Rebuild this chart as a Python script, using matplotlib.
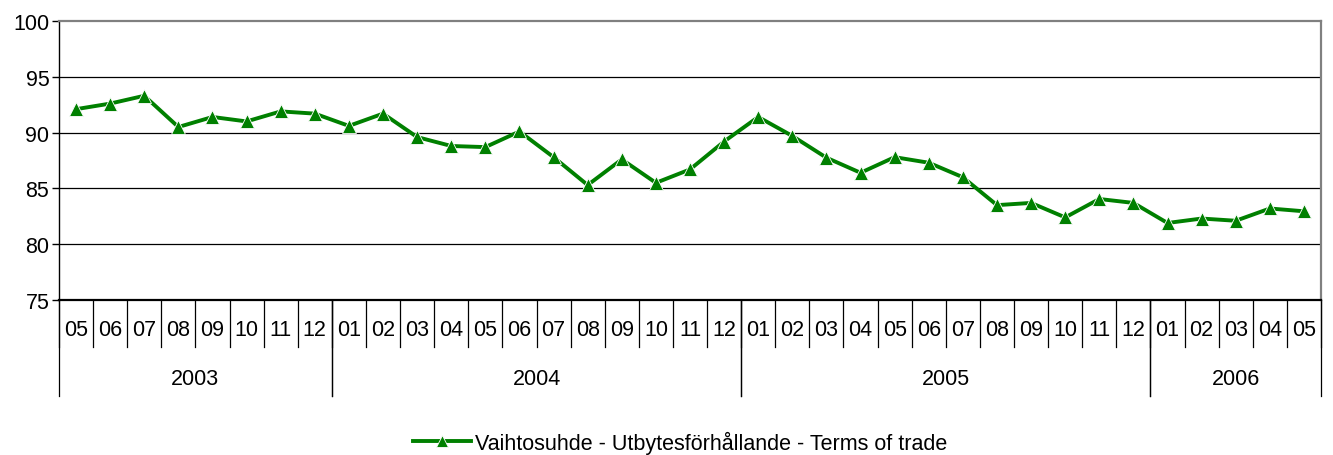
import matplotlib
matplotlib.use("Agg")
import matplotlib.pyplot as plt
from matplotlib.transforms import blended_transform_factory

plt.rcParams['font.family'] = ['Liberation Sans', 'DejaVu Sans']

months = ["05", "06", "07", "08", "09", "10", "11", "12",
          "01", "02", "03", "04", "05", "06", "07", "08", "09", "10", "11", "12",
          "01", "02", "03", "04", "05", "06", "07", "08", "09", "10", "11", "12",
          "01", "02", "03", "04", "05"]
years = ["2003"] * 8 + ["2004"] * 12 + ["2005"] * 12 + ["2006"] * 5
values = [92.1, 92.6, 93.3, 90.5, 91.4, 91.0, 91.9, 91.7,
          90.6, 91.7, 89.6, 88.8, 88.7, 90.1, 87.8, 85.3, 87.6, 85.5, 86.7, 89.2,
          91.4, 89.7, 87.75, 86.4, 87.8, 87.3, 86.0, 83.5, 83.7, 82.4, 84.05, 83.7,
          81.9, 82.3, 82.1, 83.2, 82.95]
series_label = "Vaihtosuhde - Utbytesförhållande - Terms of trade"
yticks = [75, 80, 85, 90, 95, 100]

FS = 15.5

fig = plt.figure(figsize=(13.33, 4.56), dpi=100)
ax = fig.add_axes([59/1333, 1-301/456, (1321-59)/1333, (301-22)/456])

x = list(range(len(values)))
ax.plot(x, values, color="#008000", lw=2.8, marker="^", markersize=10,
        markerfacecolor="#008000", markeredgecolor="white", markeredgewidth=0.6,
        label=series_label, zorder=3)

ax.set_xlim(-0.5, len(values) - 0.5)
ax.set_ylim(75, 100)
ax.set_yticks(yticks)
ax.set_yticklabels([str(t) for t in yticks], fontsize=FS)
for t in yticks[1:-1]:
    ax.axhline(t, color="black", lw=0.9, zorder=1)
ax.tick_params(axis='y', direction='out', length=5, width=1, pad=2, colors='black')
ax.set_xticks([])

for s in ["top", "right"]:
    ax.spines[s].set_color("#808080")
    ax.spines[s].set_linewidth(1.6)
ax.spines["left"].set_color("black")
ax.spines["bottom"].set_color("black")
ax.spines["left"].set_linewidth(1.0)
ax.spines["bottom"].set_linewidth(1.6)

trans = blended_transform_factory(ax.transData, ax.transAxes)
# month labels and separators
for i, m in enumerate(months):
    ax.text(i, -0.105, m, transform=trans, ha="center", va="center", fontsize=FS)
for i in range(len(months) + 1):
    ax.plot([i - 0.5, i - 0.5], [0, -0.168], transform=trans, color="black",
            lw=0.9, clip_on=False)

# year groups
groups = []
start = 0
for i in range(1, len(years) + 1):
    if i == len(years) or years[i] != years[start]:
        groups.append((years[start], start, i - 1))
        start = i
for yr, a, b in groups:
    ax.text((a + b) / 2, -0.283, yr, transform=trans, ha="center", va="center", fontsize=FS)
    for xx in (a - 0.5, b + 0.5):
        ax.plot([xx, xx], [0, -0.344], transform=trans, color="black",
                lw=0.9, clip_on=False)

leg = fig.legend(loc="center", bbox_to_anchor=(680/1333, 1-443/456), frameon=False,
                 fontsize=FS, handlelength=2.7, handletextpad=0.15, markerscale=0.8)

fig.savefig("out.png", dpi=100, facecolor="white")
